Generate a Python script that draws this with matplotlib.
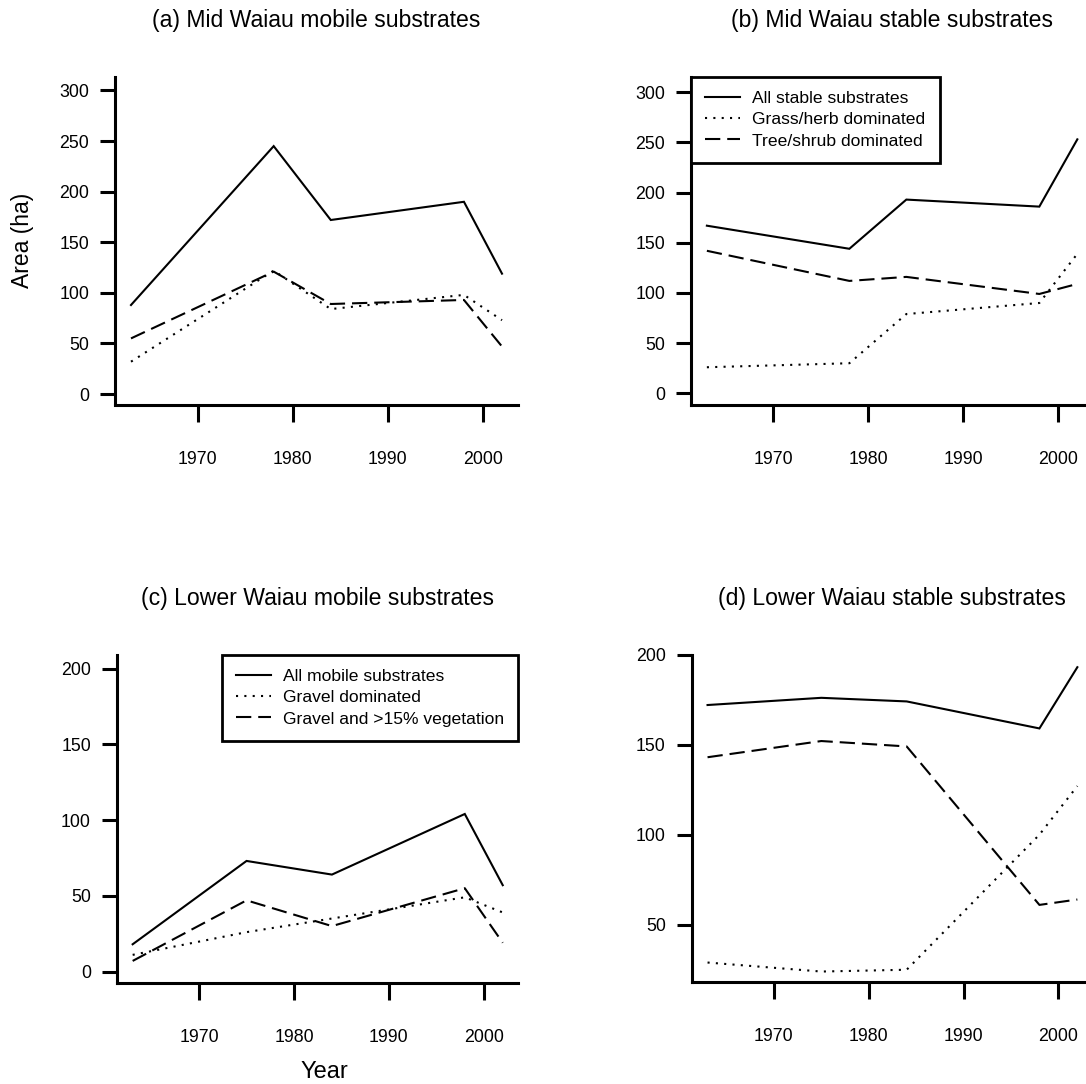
import matplotlib.pyplot as plt

plt.rcParams['font.family'] = ['Liberation Sans', 'DejaVu Sans']
plt.rcParams['lines.scale_dashes'] = False

years_mid = [1963, 1978, 1984, 1998, 2002]
years_low = [1963, 1975, 1984, 1998, 2002]

# (a) Mid Waiau mobile
mid_mobile_all = [88, 245, 172, 190, 119]
mid_mobile_gravel = [32, 122, 84, 98, 73]
mid_mobile_veg = [55, 121, 89, 93, 47]

# (b) Mid Waiau stable
mid_stable_all = [167, 144, 193, 186, 253]
mid_stable_grass = [26, 30, 79, 90, 139]
mid_stable_tree = [142, 112, 116, 99, 109]

# (c) Lower Waiau mobile
low_mobile_all = [18, 73, 64, 104, 57]
low_mobile_gravel = [11, 26, 35, 49, 39]
low_mobile_veg = [7, 47, 30, 55, 19]

# (d) Lower Waiau stable
low_stable_all = [172, 176, 174, 159, 193]
low_stable_grass = [29, 24, 25, 100, 127]
low_stable_tree = [143, 152, 149, 61, 64]

mobile_labels = ["All mobile substrates", "Gravel dominated", "Gravel and >15% vegetation"]
stable_labels = ["All stable substrates", "Grass/herb dominated", "Tree/shrub dominated"]
titles = ["(a) Mid Waiau mobile substrates", "(b) Mid Waiau stable substrates",
          "(c) Lower Waiau mobile substrates", "(d) Lower Waiau stable substrates"]
xticks = [1970, 1980, 1990, 2000]

W, H = 1086, 1084
fig = plt.figure(figsize=(W / 100, H / 100), dpi=100)


def make_axes(left, right, top, bottom):
    return fig.add_axes([left / W, 1 - bottom / H, (right - left) / W, (bottom - top) / H])


ax_a = make_axes(115.3, 517.7, 76.6, 404.5)
ax_b = make_axes(691.2, 1093, 76.6, 404.5)
ax_c = make_axes(117, 518.4, 654.6, 982.9)
ax_d = make_axes(691.9, 1093, 654.6, 981.8)

panels = [
    (ax_a, years_mid, mid_mobile_all, mid_mobile_gravel, mid_mobile_veg, (-10.3, 313.7), [0, 50, 100, 150, 200, 250, 300]),
    (ax_b, years_mid, mid_stable_all, mid_stable_grass, mid_stable_tree, (-11.1, 315.5), [0, 50, 100, 150, 200, 250, 300]),
    (ax_c, years_low, low_mobile_all, low_mobile_gravel, low_mobile_veg, (-7.5, 209.2), [0, 50, 100, 150, 200]),
    (ax_d, years_low, low_stable_all, low_stable_grass, low_stable_tree, (18.3, 200), [50, 100, 150, 200]),
]

lw = 1.5
for ax, yrs, s_all, s_dot, s_dash, ylim, yticks in panels:
    ax.plot(yrs, s_all, color="black", lw=lw, solid_joinstyle="miter")
    ax.plot(yrs, s_dot, color="black", lw=lw, linestyle=(0, (1.5, 4.5)))
    ax.plot(yrs, s_dash, color="black", lw=lw, linestyle=(0, (11, 5)))
    ax.set_xlim(1961.35, 2003.65)
    ax.set_ylim(*ylim)
    ax.set_xticks(xticks)
    ax.set_yticks(yticks)
    ax.spines["top"].set_visible(False)
    ax.spines["right"].set_visible(False)
    ax.spines["left"].set_linewidth(2.2)
    ax.spines["bottom"].set_linewidth(2.2)
    ax.tick_params(axis="x", length=12.5, width=2.2, pad=21, labelsize=12.8)
    ax.tick_params(axis="y", length=10.8, width=2.2, pad=8, labelsize=12.8)

leg_kw = dict(fontsize=12.6, frameon=True, fancybox=False, edgecolor="black", framealpha=1,
              borderaxespad=0, handlelength=2.0, handletextpad=0.7, labelspacing=0.35, borderpad=0.8)

leg_b = ax_b.legend([ax_b.lines[0], ax_b.lines[1], ax_b.lines[2]], stable_labels, loc="upper left", **leg_kw)
leg_b.get_frame().set_linewidth(2.0)
leg_c = ax_c.legend([ax_c.lines[0], ax_c.lines[1], ax_c.lines[2]], mobile_labels, loc="upper right", **leg_kw)
leg_c.get_frame().set_linewidth(2.0)

title_pos = [(316.5, 21), (892, 21), (317.7, 599), (892, 599)]
for t, (tx, ty) in zip(titles, title_pos):
    fig.text(tx / W, 1 - ty / H, t, ha="center", va="center", fontsize=16.6)

fig.text(23 / W, 1 - 240 / H, "Area (ha)", rotation=90, ha="center", va="center", fontsize=16.5)
fig.text(324 / W, 1 - 1072 / H, "Year", ha="center", va="center", fontsize=17)

fig.savefig("out.png", dpi=100)
